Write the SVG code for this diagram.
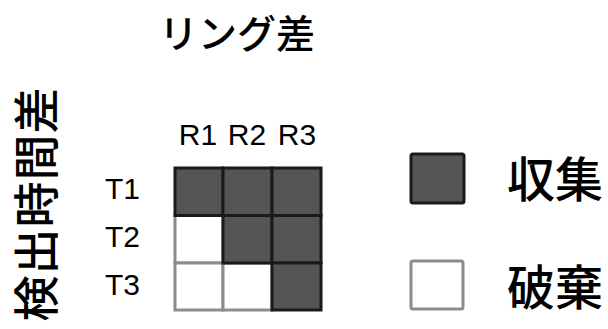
<svg xmlns="http://www.w3.org/2000/svg" width="608" height="329" viewBox="0 0 608 329">
<style>
.jp{font-family:"Noto Sans CJK JP","Noto Sans CJK SC",sans-serif;fill:#000;font-weight:500}
.lb{font-family:"Liberation Sans",Arial,sans-serif;font-size:30px;fill:#000}
.dk{fill:#555;stroke:#1a1a1a;stroke-width:3}
.wh{fill:#fff;stroke:#8c8c8c;stroke-width:3}
</style>
<rect width="608" height="329" fill="#fff"/>
<g id="title"><text class="jp" x="237" y="48" font-size="39" text-anchor="middle">リング差</text></g>
<g id="ylabel"><text class="jp" transform="translate(53,204) rotate(-90)" font-size="46" letter-spacing="1" text-anchor="middle">検出時間差</text></g>
<g id="cols">
<text class="lb" x="198" y="145" text-anchor="middle">R1</text>
<text class="lb" x="247" y="145" text-anchor="middle">R2</text>
<text class="lb" x="297" y="145" text-anchor="middle">R3</text>
</g>
<g id="rows">
<text class="lb" x="105" y="199">T1</text>
<text class="lb" x="105" y="247">T2</text>
<text class="lb" x="105" y="295">T3</text>
</g>
<g id="grid">
<rect class="wh" x="175" y="215.5" width="48" height="47.5"/>
<rect class="wh" x="175" y="263" width="48" height="47"/>
<rect class="wh" x="223" y="263" width="49" height="47"/>
<rect class="dk" x="175" y="168" width="48" height="47.5"/>
<rect class="dk" x="223" y="168" width="49" height="47.5"/>
<rect class="dk" x="272" y="168" width="49" height="47.5"/>
<rect class="dk" x="223" y="215.5" width="49" height="47.5"/>
<rect class="dk" x="272" y="215.5" width="49" height="47.5"/>
<rect class="dk" x="272" y="263" width="49" height="47"/>
</g>
<g id="legend-collect">
<rect class="dk" x="411" y="154" width="53" height="49" rx="2"/>
<text class="jp" x="507" y="197" font-size="48">収集</text>
</g>
<g id="legend-discard">
<rect class="wh" x="411" y="261" width="52" height="48" rx="2"/>
<text class="jp" x="507" y="305" font-size="48">破棄</text>
</g>
<g id="connectors"></g>
</svg>
